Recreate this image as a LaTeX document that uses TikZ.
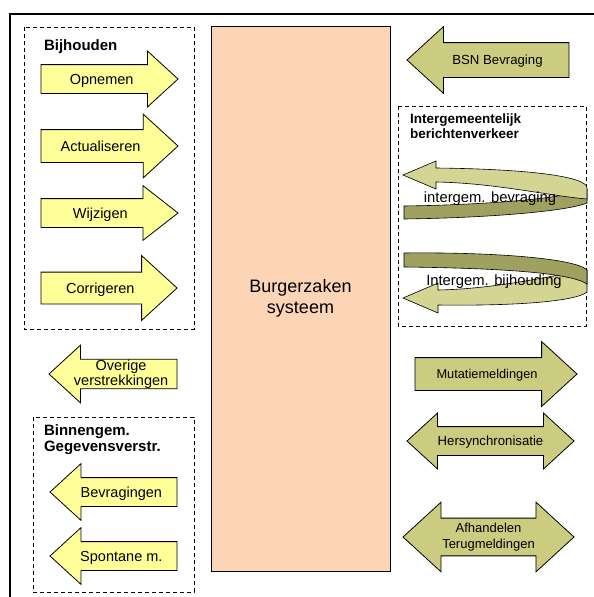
\documentclass[tikz,border=0pt]{standalone}
\usepackage{fontspec}
\setmainfont{Liberation Sans}
\usepackage{tikz}
\usetikzlibrary{arrows.meta, positioning, shapes.arrows, shapes.geometric}

\definecolor{inyellow}{RGB}{255,255,153}
\definecolor{bzolive}{RGB}{204,204,128}
\definecolor{bzdark}{RGB}{160,160,96}
\definecolor{bzpeach}{RGB}{251,213,181}

\begin{document}
\begin{tikzpicture} [
    x=1pt, y=-1pt,
    every node/.style={inner sep=0pt, outer sep=0pt},
    inarrow/.style={shape=single arrow, draw, line width=0.8pt, fill=inyellow,
      single arrow tip angle=85, single arrow head extend=14pt,
      inner xsep=0pt, inner ysep=0pt, align=center, font=\fontsize{14.5}{13}\selectfont},
    outarrow/.style={inarrow, shape border rotate=180},
    gbaarrow/.style={inarrow, fill=bzolive, font=\fontsize{13.2}{16}\selectfont},
    twoway/.style={shape=double arrow, draw, line width=0.8pt, fill=bzolive,
      double arrow tip angle=85, double arrow head extend=14pt,
      inner xsep=0pt, inner ysep=0pt, align=center, font=\fontsize{13.2}{16}\selectfont},
    groupbox/.style={draw, line width=0.9pt, dash pattern=on 4pt off 3pt},
    grouplabel/.style={align=left, font=\fontsize{15}{16}\selectfont\bfseries},
    riblight/.style={draw, line width=0.6pt, fill=bzolive!85!white},
    ribdark/.style={draw, line width=0.6pt, fill=bzdark}
    % , shaft heights set per node
  ]

  \useasboundingbox (0,0) rectangle (594,597);

  % Frame
  \draw[line width=2pt] (10,600) -- (10,14) -- (600,14);

  % Nodes and Positions
  % CENTRE
  \node (BZS) [draw, fill=bzpeach, line width=0.8pt, minimum width=179pt, minimum height=545pt,
    align=center, font=\fontsize{18}{21}\selectfont] at (300.5,298.5) {Burgerzaken\\systeem};

  % LEFT: Bijhouden
  \draw[groupbox] (24,27) rectangle (194,329);
  \node (BIJH) [anchor=base west, grouplabel] at (44,50) {Bijhouden};
  \node (OPNEMEN) [inarrow, anchor=tail, single arrow head extend=13.5pt, minimum height=137pt,
    text height=19.5pt, text depth=8.5pt] at (41,79) {Opnemen};
  \node (ACTUAL) [inarrow, anchor=tail, single arrow head extend=15.5pt, minimum height=137pt,
    text height=21.5pt, text depth=10.5pt] at (41,146) {Actualiseren};
  \node (WIJZIG) [inarrow, anchor=tail, single arrow head extend=13pt, minimum height=137pt,
    text height=19.5pt, text depth=8.5pt, single arrow tip angle=76] at (41,213) {Wijzigen};
  \node (CORRIG) [inarrow, anchor=tail, single arrow head extend=16.5pt, minimum height=136pt,
    text height=21pt, text depth=10pt] at (41,288) {Corrigeren};

  % LEFT: Overige
  \node (OVERIGE) [outarrow, anchor=tip, minimum height=128pt,
    inner ysep=0.4pt] at (49,374) {Overige\\verstrekkingen};

  % LEFT: Binnengem.
  \draw[groupbox] (33,417) rectangle (194,592);
  \node (BINNEN) [anchor=north west, grouplabel] at (44,424.5) {Binnengem.\\Gegevensverstr.};
  \node (BEVRAG) [outarrow, anchor=tip, minimum height=127pt,
    text height=19.5pt, text depth=8.5pt] at (50,492) {Bevragingen};
  \node (SPONTAAN) [outarrow, anchor=tip, minimum height=127pt,
    text height=19.5pt, text depth=8.5pt] at (50,556) {Spontane m.};

  % RIGHT: BSN
  \node (BSN) [gbaarrow, shape border rotate=180, anchor=tip, single arrow head extend=16pt,
    minimum height=162pt, text height=21.7pt, text depth=12.3pt] at (407,60) {BSN Bevraging};

  % RIGHT: Intergemeentelijk
  \draw[groupbox] (398,106) rectangle (586,326);
  \node (INTERG) [anchor=north west, align=left, font=\fontsize{13.5}{15}\selectfont\bfseries]
    at (410,113.5) {Intergemeentelijk\\berichtenverkeer};

  % ribbon: intergem. bevraging
  \draw[ribdark] (404,206) .. controls (480,205) and (565,199) .. (587,189)
    -- (587,203) .. controls (565,212) and (480,218) .. (404,219) -- cycle;
  \draw[riblight] (403,175) -- (436,161) -- (436,168)
    .. controls (525,169) and (587,176) .. (587,188)
    -- (587,199) .. controls (550,196) and (495,183) .. (436,182)
    -- (436,189) -- cycle;
  \node (IBEVR) [anchor=base, font=\fontsize{14.8}{16}\selectfont] at (490,202.5) {intergem. bevraging};

  % ribbon: Intergem. bijhouding
  \draw[riblight] (403,298) -- (438,283) -- (438,290)
    .. controls (495,289) and (550,276) .. (587,270)
    -- (587,292) .. controls (575,302) and (510,306) .. (438,305)
    -- (438,313) -- cycle;
  \draw[ribdark] (404,253) .. controls (490,252) and (575,258) .. (587,270)
    -- (587,284) .. controls (570,272) and (490,268) .. (404,267) -- cycle;
  \node (IBIJH) [anchor=base, font=\fontsize{14.8}{16}\selectfont] at (494,285) {Intergem. bijhouding};

  % RIGHT: GBA berichten
  \node (MUTATIE) [gbaarrow, anchor=tail, single arrow head extend=16pt, minimum height=162pt,
    text height=20.7pt, text depth=11.3pt, font=\fontsize{12.8}{16}\selectfont] at (415,374) {Mutatiemeldingen};
  \node (HERSYNC) [twoway, double arrow head extend=13.5pt, minimum height=167pt,
    text height=18.7pt, text depth=9.3pt] at (490.5,441) {Hersynchronisatie};
  \node (AFHAND) [twoway, double arrow head extend=16pt, minimum height=171pt, inner ysep=4.4pt,
    font=\fontsize{13}{16}\selectfont] at (488.5,537) {Afhandelen\\Terugmeldingen};

\end{tikzpicture}
\end{document}
